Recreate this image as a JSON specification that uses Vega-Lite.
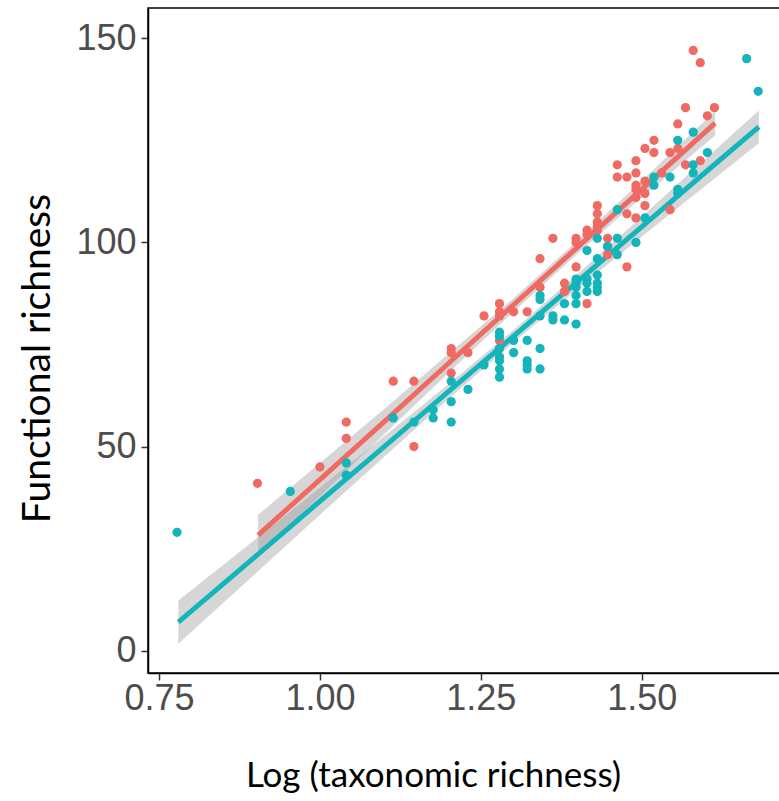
{
  "$schema": "https://vega.github.io/schema/vega-lite/v6.json",
  "width": 633,
  "height": 665,
  "autosize": "none",
  "padding": {"left": 148, "top": 8, "right": 0, "bottom": 128},
  "background": "white",
  "config": {
    "view": {"stroke": "black", "strokeWidth": 1.5},
    "axis": {
      "grid": false,
      "domainColor": "black",
      "domainWidth": 1.5,
      "tickColor": "#333333",
      "tickWidth": 1.5,
      "tickSize": 7,
      "labelFont": "Liberation Sans",
      "labelFontSize": 36,
      "labelColor": "#4D4D4D",
      "titleFont": "Lato",
      "titleFontWeight": "normal",
      "titleColor": "black"
    }
  },
  "datasets": {
    "points": [
      {"g": "A", "x": 0.903, "y": 41},
      {"g": "A", "x": 1.0, "y": 45},
      {"g": "A", "x": 1.041, "y": 56},
      {"g": "A", "x": 1.041, "y": 52},
      {"g": "A", "x": 1.114, "y": 66},
      {"g": "A", "x": 1.146, "y": 66},
      {"g": "A", "x": 1.146, "y": 50},
      {"g": "A", "x": 1.204, "y": 74},
      {"g": "A", "x": 1.204, "y": 73},
      {"g": "A", "x": 1.204, "y": 68},
      {"g": "A", "x": 1.23, "y": 73},
      {"g": "A", "x": 1.255, "y": 82},
      {"g": "A", "x": 1.279, "y": 85},
      {"g": "A", "x": 1.279, "y": 83},
      {"g": "A", "x": 1.279, "y": 82},
      {"g": "A", "x": 1.279, "y": 76},
      {"g": "A", "x": 1.301, "y": 83},
      {"g": "A", "x": 1.322, "y": 83},
      {"g": "A", "x": 1.342, "y": 96},
      {"g": "A", "x": 1.342, "y": 89},
      {"g": "A", "x": 1.362, "y": 101},
      {"g": "A", "x": 1.38, "y": 90},
      {"g": "A", "x": 1.38, "y": 88},
      {"g": "A", "x": 1.398, "y": 101},
      {"g": "A", "x": 1.398, "y": 100},
      {"g": "A", "x": 1.398, "y": 94},
      {"g": "A", "x": 1.415, "y": 103},
      {"g": "A", "x": 1.415, "y": 102},
      {"g": "A", "x": 1.415, "y": 85},
      {"g": "A", "x": 1.431, "y": 109},
      {"g": "A", "x": 1.431, "y": 107},
      {"g": "A", "x": 1.431, "y": 105},
      {"g": "A", "x": 1.431, "y": 104},
      {"g": "A", "x": 1.431, "y": 103},
      {"g": "A", "x": 1.447, "y": 101},
      {"g": "A", "x": 1.447, "y": 99},
      {"g": "A", "x": 1.447, "y": 97},
      {"g": "A", "x": 1.462, "y": 119},
      {"g": "A", "x": 1.462, "y": 116},
      {"g": "A", "x": 1.477, "y": 116},
      {"g": "A", "x": 1.477, "y": 107},
      {"g": "A", "x": 1.477, "y": 94},
      {"g": "A", "x": 1.491, "y": 120},
      {"g": "A", "x": 1.491, "y": 117},
      {"g": "A", "x": 1.491, "y": 114},
      {"g": "A", "x": 1.491, "y": 113},
      {"g": "A", "x": 1.491, "y": 111},
      {"g": "A", "x": 1.491, "y": 106},
      {"g": "A", "x": 1.505, "y": 123},
      {"g": "A", "x": 1.505, "y": 115},
      {"g": "A", "x": 1.505, "y": 112},
      {"g": "A", "x": 1.505, "y": 109},
      {"g": "A", "x": 1.519, "y": 125},
      {"g": "A", "x": 1.519, "y": 122},
      {"g": "A", "x": 1.531, "y": 117},
      {"g": "A", "x": 1.544, "y": 122},
      {"g": "A", "x": 1.544, "y": 108},
      {"g": "A", "x": 1.556, "y": 129},
      {"g": "A", "x": 1.556, "y": 123},
      {"g": "A", "x": 1.568, "y": 133},
      {"g": "A", "x": 1.568, "y": 119},
      {"g": "A", "x": 1.58, "y": 147},
      {"g": "A", "x": 1.591, "y": 144},
      {"g": "A", "x": 1.591, "y": 120},
      {"g": "A", "x": 1.602, "y": 131},
      {"g": "A", "x": 1.613, "y": 133},
      {"g": "B", "x": 0.778, "y": 29},
      {"g": "B", "x": 0.954, "y": 39},
      {"g": "B", "x": 1.041, "y": 46},
      {"g": "B", "x": 1.041, "y": 43},
      {"g": "B", "x": 1.114, "y": 57},
      {"g": "B", "x": 1.146, "y": 56},
      {"g": "B", "x": 1.176, "y": 59},
      {"g": "B", "x": 1.176, "y": 57},
      {"g": "B", "x": 1.204, "y": 66},
      {"g": "B", "x": 1.204, "y": 61},
      {"g": "B", "x": 1.204, "y": 56},
      {"g": "B", "x": 1.23, "y": 64},
      {"g": "B", "x": 1.255, "y": 70},
      {"g": "B", "x": 1.279, "y": 78},
      {"g": "B", "x": 1.279, "y": 77},
      {"g": "B", "x": 1.279, "y": 74},
      {"g": "B", "x": 1.279, "y": 72},
      {"g": "B", "x": 1.279, "y": 71},
      {"g": "B", "x": 1.279, "y": 69},
      {"g": "B", "x": 1.279, "y": 67},
      {"g": "B", "x": 1.301, "y": 76},
      {"g": "B", "x": 1.301, "y": 73},
      {"g": "B", "x": 1.322, "y": 76},
      {"g": "B", "x": 1.322, "y": 71},
      {"g": "B", "x": 1.322, "y": 70},
      {"g": "B", "x": 1.322, "y": 69},
      {"g": "B", "x": 1.342, "y": 87},
      {"g": "B", "x": 1.342, "y": 86},
      {"g": "B", "x": 1.342, "y": 82},
      {"g": "B", "x": 1.342, "y": 74},
      {"g": "B", "x": 1.342, "y": 69},
      {"g": "B", "x": 1.362, "y": 82},
      {"g": "B", "x": 1.362, "y": 81},
      {"g": "B", "x": 1.38, "y": 85},
      {"g": "B", "x": 1.38, "y": 81},
      {"g": "B", "x": 1.398, "y": 91},
      {"g": "B", "x": 1.398, "y": 90},
      {"g": "B", "x": 1.398, "y": 89},
      {"g": "B", "x": 1.398, "y": 87},
      {"g": "B", "x": 1.398, "y": 85},
      {"g": "B", "x": 1.398, "y": 80},
      {"g": "B", "x": 1.415, "y": 98},
      {"g": "B", "x": 1.415, "y": 91},
      {"g": "B", "x": 1.415, "y": 90},
      {"g": "B", "x": 1.415, "y": 88},
      {"g": "B", "x": 1.431, "y": 101},
      {"g": "B", "x": 1.431, "y": 96},
      {"g": "B", "x": 1.431, "y": 92},
      {"g": "B", "x": 1.431, "y": 90},
      {"g": "B", "x": 1.431, "y": 89},
      {"g": "B", "x": 1.431, "y": 88},
      {"g": "B", "x": 1.447, "y": 99},
      {"g": "B", "x": 1.462, "y": 108},
      {"g": "B", "x": 1.462, "y": 101},
      {"g": "B", "x": 1.462, "y": 97},
      {"g": "B", "x": 1.491, "y": 100},
      {"g": "B", "x": 1.505, "y": 106},
      {"g": "B", "x": 1.519, "y": 116},
      {"g": "B", "x": 1.519, "y": 114},
      {"g": "B", "x": 1.544, "y": 116},
      {"g": "B", "x": 1.556, "y": 125},
      {"g": "B", "x": 1.556, "y": 113},
      {"g": "B", "x": 1.556, "y": 112},
      {"g": "B", "x": 1.58, "y": 127},
      {"g": "B", "x": 1.58, "y": 119},
      {"g": "B", "x": 1.58, "y": 117},
      {"g": "B", "x": 1.602, "y": 122},
      {"g": "B", "x": 1.663, "y": 145},
      {"g": "B", "x": 1.681, "y": 137}
    ],
    "bands": [
      {"g": "A", "x": 0.904, "fit": 28.3, "lo": 23.3, "hi": 33.3},
      {"g": "A", "x": 1.0, "fit": 41.9, "lo": 37.8, "hi": 46.0},
      {"g": "A", "x": 1.1, "fit": 56.1, "lo": 53.0, "hi": 59.2},
      {"g": "A", "x": 1.2, "fit": 70.4, "lo": 68.1, "hi": 72.7},
      {"g": "A", "x": 1.3, "fit": 84.6, "lo": 82.9, "hi": 86.2},
      {"g": "A", "x": 1.4, "fit": 98.8, "lo": 97.2, "hi": 100.4},
      {"g": "A", "x": 1.5, "fit": 113.0, "lo": 111.0, "hi": 115.1},
      {"g": "A", "x": 1.614, "fit": 129.2, "lo": 126.2, "hi": 132.2},
      {"g": "B", "x": 0.78, "fit": 7.0, "lo": 1.7, "hi": 12.3},
      {"g": "B", "x": 0.9, "fit": 23.1, "lo": 18.9, "hi": 27.3},
      {"g": "B", "x": 1.0, "fit": 36.6, "lo": 33.3, "hi": 39.9},
      {"g": "B", "x": 1.1, "fit": 50.0, "lo": 47.5, "hi": 52.5},
      {"g": "B", "x": 1.2, "fit": 63.5, "lo": 61.7, "hi": 65.3},
      {"g": "B", "x": 1.3, "fit": 76.9, "lo": 75.4, "hi": 78.4},
      {"g": "B", "x": 1.4, "fit": 90.4, "lo": 88.6, "hi": 92.2},
      {"g": "B", "x": 1.5, "fit": 103.8, "lo": 101.4, "hi": 106.3},
      {"g": "B", "x": 1.6, "fit": 117.3, "lo": 114.0, "hi": 120.6},
      {"g": "B", "x": 1.682, "fit": 128.3, "lo": 124.3, "hi": 132.3}
    ]
  },
  "encoding": {
    "x": {
      "field": "x",
      "type": "quantitative",
      "scale": {"domain": [0.7329, 1.7164], "nice": false, "zero": false},
      "axis": {"values": [0.75, 1.0, 1.25, 1.5], "format": ".2f", "title": "Log (taxonomic richness)", "titleFontSize": 35, "titleX": 285, "titleAlign": "center", "titlePadding": 42, "labelPadding": 1}
    }
  },
  "layer": [
    {
      "data": {"name": "bands"},
      "mark": {"type": "area", "color": "#999999", "opacity": 0.4},
      "encoding": {
        "y": {"field": "lo", "type": "quantitative", "scale": {"domain": [-5.46, 157.4], "nice": false, "zero": false},
              "axis": {"values": [0, 50, 100, 150], "title": "Functional richness", "titleFontSize": 39, "titleX": -99, "titleY": 350, "titleAngle": -90, "titleAlign": "center", "titleBaseline": "alphabetic", "labelPadding": 5}},
        "y2": {"field": "hi"},
        "detail": {"field": "g"}
      }
    },
    {
      "data": {"name": "bands"},
      "mark": {"type": "line", "strokeWidth": 5},
      "encoding": {
        "y": {"field": "fit", "type": "quantitative"},
        "color": {"field": "g", "type": "nominal", "scale": {"domain": ["A", "B"], "range": ["#EF6A62", "#13B4BA"]}, "legend": null}
      }
    },
    {
      "data": {"name": "points"},
      "mark": {"type": "circle", "size": 85, "opacity": 1},
      "encoding": {
        "y": {"field": "y", "type": "quantitative"},
        "color": {"field": "g", "type": "nominal", "scale": {"domain": ["A", "B"], "range": ["#EF6A62", "#13B4BA"]}, "legend": null}
      }
    }
  ]
}
